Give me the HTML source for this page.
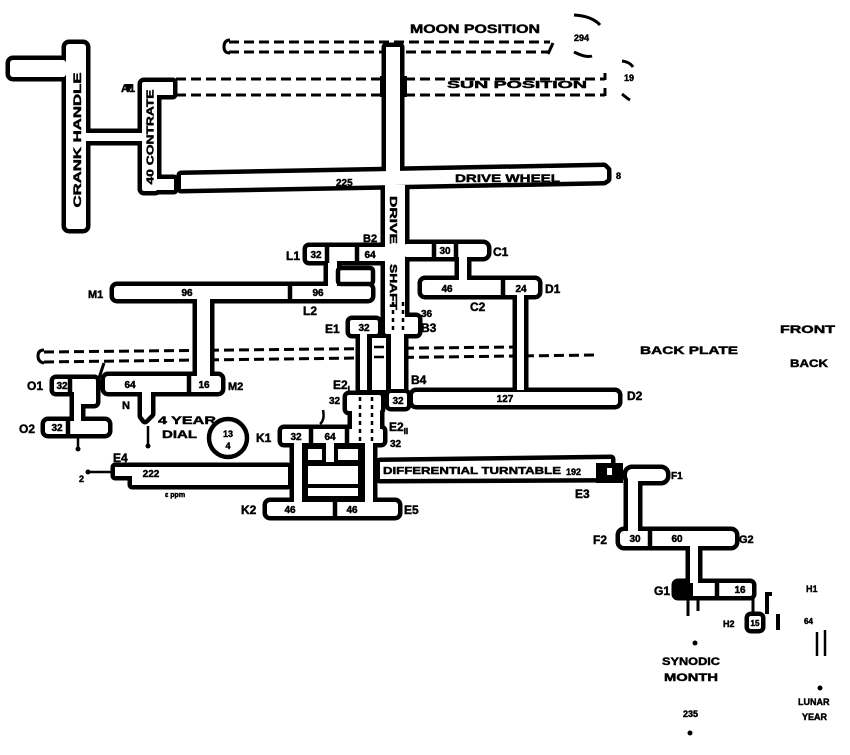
<!DOCTYPE html>
<html><head><meta charset="utf-8"><style>
html,body{margin:0;padding:0;background:#fff;}
svg{display:block;}
text{font-family:"Liberation Sans",sans-serif;font-weight:bold;fill:#000;stroke:#000;stroke-width:0.45;}
</style></head><body>
<svg width="850" height="755" viewBox="0 0 850 755" xmlns="http://www.w3.org/2000/svg">
<rect width="850" height="755" fill="#fff"/>
<defs>
<g id="u">
<!-- crank handle -->
<rect x="10" y="60" width="56" height="17" rx="3"/>
<rect x="66" y="44" width="20" height="185" rx="3"/>
<rect x="84" y="133" width="60" height="8"/>
<rect x="142" y="82" width="15" height="109" rx="2"/>
<rect x="155" y="82" width="18" height="13"/>
<rect x="155" y="179" width="19" height="11"/>
<!-- drive wheel -->
<polygon points="181,175 604,167 607,170 607,179 604,181 181,189"/>
<rect x="386" y="47" width="14" height="130"/>
<rect x="385" y="185" width="20" height="138"/>
<!-- L1 / B2 -->
<rect x="307" y="247" width="80" height="14" rx="2"/>
<rect x="328" y="259" width="9" height="29"/>
<rect x="114" y="286" width="257" height="13" rx="3"/>
<rect x="197" y="297" width="13" height="80"/>
<rect x="105" y="376" width="116" height="16" rx="3"/>
<polygon points="142,390 151,390 151,414 145,420 142,416"/>
<!-- O1/O2 -->
<rect x="54" y="379" width="42" height="13" rx="2"/>
<rect x="74" y="379" width="22" height="25" rx="2"/>
<rect x="74" y="400" width="7" height="23"/>
<rect x="45" y="421" width="63" height="13" rx="3"/>
<!-- C1/C2/D1 -->
<rect x="403" y="244" width="84" height="13" rx="4"/>
<rect x="459" y="255" width="8" height="27"/>
<rect x="422" y="280" width="116" height="15" rx="3"/>
<rect x="517" y="293" width="7" height="97"/>
<!-- E1/B3 -->
<rect x="350" y="320" width="28" height="14" rx="2"/>
<rect x="385" y="317" width="33" height="17" rx="2"/>
<rect x="360" y="332" width="7" height="58"/>
<rect x="372" y="338" width="14" height="52"/>
<rect x="391" y="330" width="13" height="59"/>
<!-- E2 / B4 / D2 -->
<rect x="347" y="395" width="34" height="16" rx="2"/>
<rect x="352" y="409" width="28" height="24"/>
<rect x="389" y="393" width="18" height="14" rx="2"/>
<rect x="413" y="392" width="205" height="13" rx="3"/>
<!-- J row and cage -->
<rect x="282" y="429" width="101" height="14" rx="2"/>
<rect x="294" y="441" width="8" height="63"/>
<rect x="365" y="441" width="8" height="63"/>
<rect x="308" y="449" width="14" height="11"/>
<rect x="326" y="441" width="8" height="21"/>
<rect x="338" y="449" width="20" height="11"/>
<rect x="308" y="466" width="50" height="18"/>
<rect x="308" y="488" width="50" height="8"/>
<rect x="267" y="502" width="131" height="14" rx="3"/>
<!-- E4 -->
<polygon points="115,467 288,467 288,485 132,485 132,476 115,476"/>
<!-- turntable -->
<polygon points="380,462 611,459 611,478 380,479"/>
<rect x="627" y="469" width="39" height="12" rx="5"/>
<rect x="628" y="478" width="10" height="54"/>
<rect x="620" y="531" width="115" height="15" rx="4"/>
<rect x="690" y="543" width="8" height="42"/>
<rect x="676" y="583" width="76" height="13" rx="2"/>
<rect x="749" y="616" width="12" height="13" rx="2"/>
</g>
</defs>

<!-- dashed lines (background) -->
<g fill="none" stroke="#000" stroke-width="3" stroke-dasharray="10 5">
<path d="M229 42 H550 M229 52 H382 M406 52 H548"/>
<path d="M176 79 H383 M176 95 H383 M405 79 H605 M405 95 H605"/>
<path d="M44 352 L515 347 M44 362 L595 355"/>
</g>
<g fill="none" stroke="#000" stroke-width="3">
<path d="M230 40 Q224 40 224 47 Q224 53 230 53"/>
<path d="M548 54 L553 43"/>
<path d="M605 73 V80 M605 88 V96"/>
<path d="M44 350 Q38 350 38 356 Q38 362 44 363"/>
<path d="M574 15 Q592 16 600 25"/>
<path d="M574 52 Q586 58 592 56"/>
<path d="M622 61 Q630 62 633 67"/>
<path d="M622 94 Q628 99 630 100"/>
</g>
<rect x="380" y="76" width="5" height="21" fill="#000"/>
<rect x="402" y="76" width="5" height="21" fill="#000"/>

<use href="#u" fill="#000" stroke="#000" stroke-width="9" stroke-linejoin="round"/>
<use href="#u" fill="#fff"/>

<!-- extra outlines -->
<rect x="338" y="268" width="35" height="16" rx="3" fill="#fff" stroke="#000" stroke-width="4.5"/>
<circle cx="228" cy="438" r="19" fill="#fff" stroke="#000" stroke-width="4.5"/>

<!-- dividers -->
<g stroke="#000" stroke-width="4.5">
<line x1="327" y1="245" x2="327" y2="263"/>
<line x1="357" y1="245" x2="357" y2="263"/>
<line x1="434" y1="242" x2="434" y2="259"/>
<line x1="456" y1="242" x2="456" y2="259"/>
<line x1="503" y1="278" x2="503" y2="297"/>
<line x1="290" y1="284" x2="290" y2="301"/>
<line x1="189" y1="374" x2="189" y2="394"/>
<line x1="70" y1="377" x2="70" y2="394"/>
<line x1="68" y1="419" x2="68" y2="436"/>
<line x1="311" y1="427" x2="311" y2="445"/>
<line x1="347" y1="427" x2="347" y2="445"/>
<line x1="335" y1="500" x2="335" y2="518"/>
<line x1="650" y1="529" x2="650" y2="548"/>
<line x1="717" y1="581" x2="717" y2="598"/>
<line x1="104" y1="363" x2="99" y2="378" stroke-width="3"/>
<line x1="78" y1="436" x2="78" y2="448" stroke-width="2.5"/>
<line x1="148" y1="426" x2="148" y2="445" stroke-width="2.5"/>
<line x1="688" y1="597" x2="688" y2="616" stroke-width="3"/>
<line x1="698" y1="597" x2="698" y2="611" stroke-width="3"/>
<line x1="753" y1="597" x2="753" y2="615" stroke-width="3"/>
<line x1="817" y1="632" x2="817" y2="656" stroke-width="2.5"/>
<line x1="825" y1="630" x2="825" y2="656" stroke-width="2.5"/>
<line x1="86" y1="472" x2="112" y2="472" stroke-width="2.5"/>
</g>
<path d="M772 594 H767 V614" fill="none" stroke="#000" stroke-width="4"/>
<rect x="776" y="614" width="4" height="16" fill="#000"/>
<rect x="676" y="583" width="17" height="13" fill="#000"/>
<rect x="596" y="463" width="27" height="20" fill="#000"/>
<rect x="607" y="468" width="5" height="7" fill="#fff"/>
<path d="M125 84 L133 84 L129 92 Z" fill="#000"/>
<g fill="#000">
<circle cx="78" cy="449" r="2.5"/>
<circle cx="148" cy="446" r="2.5"/>
<circle cx="88" cy="472" r="2.5"/>
<circle cx="695" cy="643" r="2.5"/>
<circle cx="690" cy="733" r="2.5"/>
<circle cx="820" cy="688" r="2.5"/>
</g>
<!-- dotted hidden lines -->
<g stroke="#000" stroke-width="2.5" stroke-dasharray="4 4" fill="none">
<path d="M360 397 V441 M372 397 V441"/>
<path d="M393 302 V333 M403 302 V333"/>
</g>
<g stroke="#000" stroke-width="2.5" fill="none">
<path d="M374 347 H384 M374 357 H384"/>
<path d="M323 410 Q325 420 320 424"/>
</g>

<!-- rotated text -->
<text transform="translate(81,140) rotate(-90)" text-anchor="middle" font-size="11" textLength="135" lengthAdjust="spacingAndGlyphs">CRANK HANDLE</text>
<text transform="translate(153.5,137) rotate(-90)" text-anchor="middle" font-size="10" textLength="95" lengthAdjust="spacingAndGlyphs">40 CONTRATE</text>
<text transform="translate(390,196) rotate(90)" font-size="10" textLength="48" lengthAdjust="spacingAndGlyphs">DRIVE</text>
<text transform="translate(390,264) rotate(90)" font-size="10" textLength="46" lengthAdjust="spacingAndGlyphs">SHAFT</text>

<!-- labels -->
<g font-size="12">
<text x="410" y="33" textLength="130" lengthAdjust="spacingAndGlyphs">MOON POSITION</text>
<text x="447" y="88" font-size="10" textLength="140" lengthAdjust="spacingAndGlyphs">SUN POSITION</text>
<text x="574" y="41" font-size="9">294</text>
<text x="624" y="81" font-size="9">19</text>
<text x="121" y="92" font-size="11">A1</text>
<text x="336" y="186" font-size="10">225</text>
<text x="455" y="182" font-size="11" textLength="105" lengthAdjust="spacingAndGlyphs">DRIVE WHEEL</text>
<text x="616" y="179" font-size="9">8</text>
<text x="363" y="242" font-size="11">B2</text>
<text x="286" y="260">L1</text>
<text x="493" y="256">C1</text>
<text x="545" y="293">D1</text>
<text x="470" y="311">C2</text>
<text x="88" y="298" font-size="11">M1</text>
<text x="303" y="315">L2</text>
<text x="325" y="333">E1</text>
<text x="421" y="317" font-size="10">36</text>
<text x="421" y="332">B3</text>
<text x="640" y="354" font-size="11" textLength="98" lengthAdjust="spacingAndGlyphs">BACK PLATE</text>
<text x="780" y="333" font-size="11" textLength="55" lengthAdjust="spacingAndGlyphs">FRONT</text>
<text x="790" y="367" font-size="11" textLength="38" lengthAdjust="spacingAndGlyphs">BACK</text>
<text x="27" y="390">O1</text>
<text x="228" y="390" font-size="11">M2</text>
<text x="122" y="409" font-size="11">N</text>
<text x="19" y="433">O2</text>
<text x="158" y="424" font-size="11" textLength="58" lengthAdjust="spacingAndGlyphs">4 YEAR</text>
<text x="162" y="438" font-size="11" textLength="35" lengthAdjust="spacingAndGlyphs">DIAL</text>
<text x="333" y="389">E2<tspan font-size="8" dy="3">I</tspan></text>
<text x="329" y="404" font-size="10">32</text>
<text x="411" y="384">B4</text>
<text x="627" y="400">D2</text>
<text x="256" y="442">K1</text>
<text x="389" y="431">E2<tspan font-size="8" dy="3">II</tspan></text>
<text x="390" y="447" font-size="10">32</text>
<text x="113" y="462">E4</text>
<text x="79" y="482" font-size="9">2</text>
<text x="165" y="497" font-size="7">ε ppm</text>
<text x="241" y="514">K2</text>
<text x="404" y="514">E5</text>
<text x="383" y="474" font-size="10" textLength="178" lengthAdjust="spacingAndGlyphs">DIFFERENTIAL TURNTABLE</text>
<text x="566" y="475" font-size="9">192</text>
<text x="575" y="498">E3</text>
<text x="671" y="479" font-size="10">F1</text>
<text x="593" y="544">F2</text>
<text x="739" y="543" font-size="11">G2</text>
<text x="654" y="595">G1</text>
<text x="723" y="627" font-size="9">H2</text>
<text x="806" y="592" font-size="9">H1</text>
<text x="804" y="624" font-size="8">64</text>
<text x="662" y="665" font-size="11" textLength="58" lengthAdjust="spacingAndGlyphs">SYNODIC</text>
<text x="664" y="681" font-size="11" textLength="54" lengthAdjust="spacingAndGlyphs">MONTH</text>
<text x="683" y="717" font-size="9">235</text>
<text x="798" y="705" font-size="9">LUNAR</text>
<text x="802" y="720" font-size="9">YEAR</text>
</g>
<!-- numbers in boxes -->
<g font-size="10" text-anchor="middle">
<text x="316" y="258">32</text>
<text x="370" y="258">64</text>
<text x="445" y="254">30</text>
<text x="447" y="292">46</text>
<text x="521" y="292">24</text>
<text x="187" y="296">96</text>
<text x="318" y="296">96</text>
<text x="364" y="331">32</text>
<text x="62" y="389">32</text>
<text x="130" y="388">64</text>
<text x="204" y="388">16</text>
<text x="57" y="431">32</text>
<text x="398" y="404">32</text>
<text x="505" y="402">127</text>
<text x="296" y="440">32</text>
<text x="330" y="440">64</text>
<text x="151" y="477">222</text>
<text x="290" y="513">46</text>
<text x="352" y="513">46</text>
<text x="635" y="542">30</text>
<text x="677" y="542">60</text>
<text x="740" y="593">16</text>
<text x="755" y="626" font-size="8">15</text>
<text x="228" y="437" font-size="9">13</text>
<text x="228" y="449" font-size="9">4</text>
</g>
</svg>
</body></html>
